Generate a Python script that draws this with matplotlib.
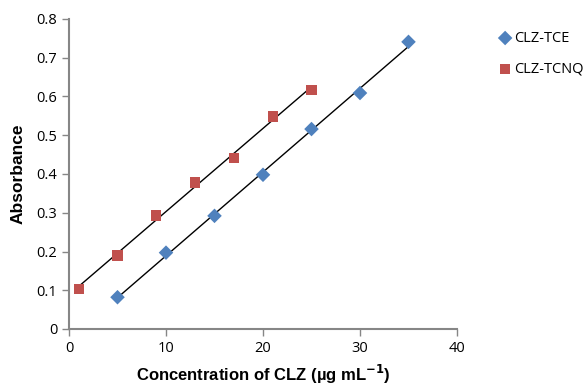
import numpy as np
import matplotlib
matplotlib.use("Agg")
import matplotlib.pyplot as plt

tce_x = [5, 10, 15, 20, 25, 30, 35]
tce_y = [0.082, 0.197, 0.292, 0.398, 0.516, 0.609, 0.741]
tcnq_x = [1, 5, 9, 13, 17, 21, 25]
tcnq_y = [0.104, 0.190, 0.293, 0.378, 0.442, 0.548, 0.617]
xticks = [0, 10, 20, 30, 40]
yticks = [0, 0.1, 0.2, 0.3, 0.4, 0.5, 0.6, 0.7, 0.8]

fig = plt.figure(figsize=(5.85, 3.85), dpi=100)
ax = fig.add_axes([69/585, 1-329/385, (457-69)/585, (329-19)/385])

blue = "#4F81BD"
red = "#C0504D"
ax.scatter(tce_x, tce_y, marker="D", s=55, color=blue, zorder=3, label="CLZ-TCE", edgecolors="none")
ax.scatter(tcnq_x, tcnq_y, marker="s", s=55, color=red, zorder=3, label="CLZ-TCNQ", edgecolors="none")

for xs, ys in [(tce_x, tce_y), (tcnq_x, tcnq_y)]:
    m, b = np.polyfit(xs, ys, 1)
    xx = np.array([min(xs), max(xs)])
    ax.plot(xx, m*xx+b, color="black", lw=1.0, zorder=2)

ax.set_xlim(0, 40)
ax.set_ylim(0, 0.8)
ax.set_xticks(xticks)
ax.set_yticks(yticks)
ax.set_xticklabels([str(t) for t in xticks])
ax.set_yticklabels(["0"] + [f"{t:.1f}" for t in yticks[1:]])
for s in ["top", "right"]:
    ax.spines[s].set_visible(False)
for s in ["left", "bottom"]:
    ax.spines[s].set_color("#868686")
    ax.spines[s].set_linewidth(1.5)
ax.tick_params(axis="both", direction="out", length=5, color="#868686", width=1,
               labelsize=10.5, labelcolor="black")
for lab in ax.get_xticklabels() + ax.get_yticklabels():
    lab.set_fontfamily("Open Sans")

ax.set_xlabel("Concentration of CLZ (µg mL$^{\\mathbf{-1}}$)", fontsize=12, fontweight="bold",
              family="Liberation Sans", labelpad=5)
ax.set_ylabel("Absorbance", fontsize=12.5, fontweight="bold", family="Liberation Sans", labelpad=8)

leg = fig.legend(loc="upper left", bbox_to_anchor=(492/585, 1-25/385), frameon=False,
                 handletextpad=0.1, labelspacing=1.1, prop={"family": "Open Sans", "size": 10.5},
                 borderaxespad=0, handlelength=1.0)

fig.savefig("out.png", dpi=100)
